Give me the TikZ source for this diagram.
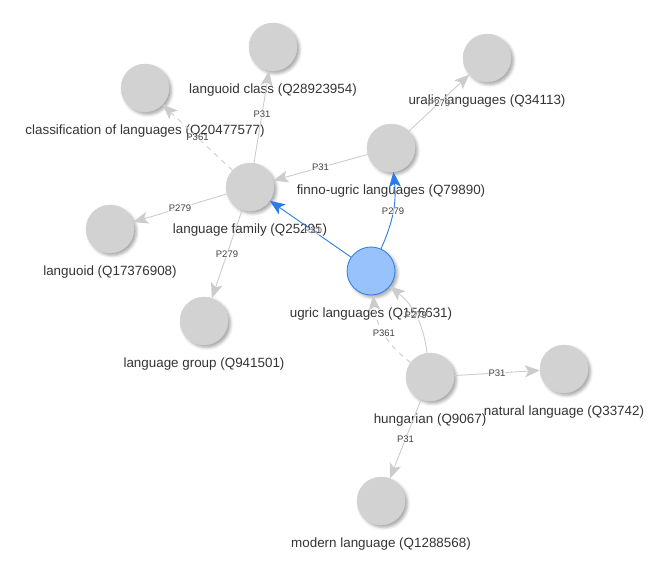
\documentclass[tikz,border=0pt]{standalone}
\usepackage{fontspec}
\setmainfont{Liberation Sans}
\usetikzlibrary{shadows.blur, arrows.meta, positioning}

\definecolor{nodegray}{HTML}{D2D2D2}
\definecolor{hubfill}{HTML}{97C2FC}
\definecolor{hubline}{HTML}{2B7CE9}
\definecolor{edgegray}{HTML}{CCCCCC}
\definecolor{labelgray}{HTML}{343434}
\definecolor{elblgray}{HTML}{444444}

\begin{document}
\begin{tikzpicture}[x=1pt,y=1pt,
    vert/.style={circle,minimum size=48pt,inner sep=0pt,fill=nodegray,draw=nodegray,
      blur shadow={shadow xshift=2.5pt,shadow yshift=-2.5pt,shadow blur radius=3pt,shadow opacity=35},
      label distance=9pt},
    hub/.style={vert,fill=hubfill,draw=hubline,line width=0.8pt},
    lbl/.style={text=labelgray,font=\fontsize{13.4}{16}\selectfont,inner sep=2pt,yshift=-10pt},
    rel/.style={draw=edgegray,line width=0.9pt,-{Stealth[length=15pt,width=12pt,inset=3.5pt]}},
    selrel/.style={rel,draw=hubline},
    part/.style={rel,dash pattern=on 5pt off 5pt},
    elbl/.style={font=\fontsize{9.5}{11}\selectfont,text=elblgray,fill=white,fill opacity=0.5,
      text opacity=1,inner sep=0.6pt}]
  \useasboundingbox (0,0) rectangle (668,563);

  % items
  \node[vert,label={[lbl]below:languoid class (Q28923954)}] (lclass) at (273,516) {};
  \node[vert,label={[lbl]below:classification of languages (Q20477577)}] (classif) at (145,475) {};
  \node[vert,label={[lbl]below:uralic languages (Q34113)}] (uralic) at (487,505) {};
  \node[vert,label={[lbl]below:finno-ugric languages (Q79890)}] (finno) at (391,415) {};
  \node[vert,label={[lbl]below:language family (Q25295)}] (family) at (250,376) {};
  \node[vert,label={[lbl]below:languoid (Q17376908)}] (languoid) at (110,334) {};
  \node[hub,label={[lbl]below:ugric languages (Q156631)}] (ugric) at (371,292) {};
  \node[vert,label={[lbl]below:language group (Q941501)}] (group) at (204,242) {};
  \node[vert,label={[lbl]below:hungarian (Q9067)}] (hungarian) at (430,186) {};
  \node[vert,label={[lbl]below:natural language (Q33742)}] (natural) at (564,194) {};
  \node[vert,label={[lbl]below:modern language (Q1288568)}] (modern) at (381,62) {};

  % statements
  \begin{scope}[every node/.style={elbl}]
    \path (family) edge[rel] node[pos=0.53] {P31} (lclass);
    \path (family) edge[part] node {P361} (classif);
    \path (family) edge[rel] node {P279} (languoid);
    \path (family) edge[rel] node {P279} (group);
    \path (finno) edge[rel] node {P31} (family);
    \path (finno) edge[rel] node {P279} (uralic);
    \path (ugric) edge[selrel] node[pos=0.47] {P31} (family);
    \path (ugric) edge[selrel,bend right=15] node {P279} (finno);
    \path (hungarian) edge[rel,bend right=22] node {P279} (ugric);
    \path (hungarian) edge[part,bend left=24] node {P361} (ugric);
    \path (hungarian) edge[rel] node {P31} (natural);
    \path (hungarian) edge[rel] node {P31} (modern);
  \end{scope}
\end{tikzpicture}
\end{document}
